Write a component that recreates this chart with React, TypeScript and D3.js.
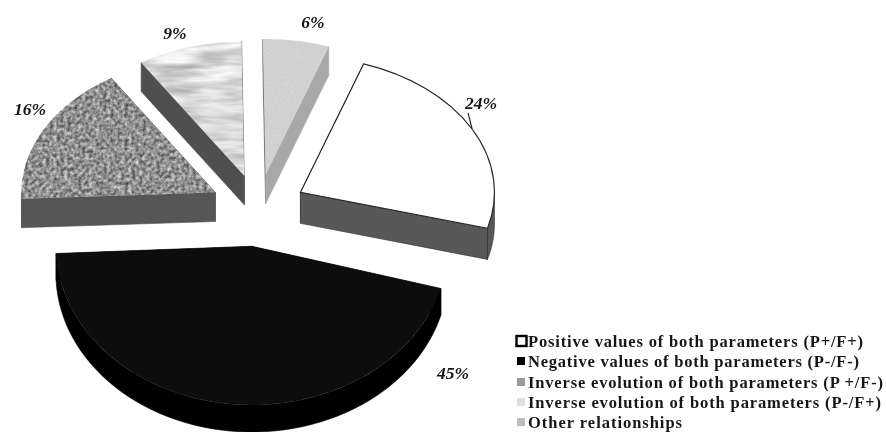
import React from "react";
import * as d3 from "d3";

const categories = [
  "Positive values of both parameters (P+/F+)",
  "Negative values of both parameters (P-/F-)",
  "Inverse evolution of both parameters (P +/F-)",
  "Inverse evolution of both parameters (P-/F+)",
  "Other relationships",
];
const percentLabels = ["24%", "45%", "16%", "9%", "6%"];
const values = [24, 45, 16.7, 8.8, 5.5];
const topFills = ["#ffffff", "#101010", "#8f8f8f", "#e0e0e0", "#d2d2d2"];
const sideFills = ["#595959", "#000000", "#565656", "#505050", "#a8a8a8"];
const strokes = ["#2a2a2a", "none", "none", "none", "none"];
const textures = ["", "", "url(#grain)", "url(#streak)", "url(#fine)"];
const swatchFills = ["#ffffff", "#000000", "#9a9a9a", "#dedede", "#bdbdbd"];
const explodes = [48, 55, 48, 48, 48];
const radii = [194, 196, 194, 192, 194];
const tilts = [0.7, 0.81, 0.7, 0.7, 0.7];
const depths = [31, 27, 29, 29, 29];

const W = 886, H = 432;
const cx = 258, cy = 208, baseTilt = 0.7;
const rot = (19 * Math.PI) / 180;

const pie = d3.pie<number>().sort(null).startAngle(rot).endAngle(rot + 2 * Math.PI);
const arcs = pie(values);
const lineGen = d3.line<[number, number]>();

const labelPos = [
  { x: 481, y: 109 },
  { x: 453, y: 379 },
  { x: 30, y: 115 },
  { x: 175, y: 39 },
  { x: 313, y: 28 },
];
const legendY = [347, 367, 388, 408, 428];
const legendW = [335, 331, 355, 353, 154];

function geom(i: number) {
  const d = arcs[i];
  const mid = (d.startAngle + d.endAngle) / 2;
  const ox = cx + explodes[i] * Math.sin(mid);
  const oy = cy - explodes[i] * baseTilt * Math.cos(mid);
  const project = (a: number, z = 0): [number, number] => [
    ox + radii[i] * Math.sin(a),
    oy - radii[i] * tilts[i] * Math.cos(a) + z,
  ];
  return { d, mid, ox, oy, project };
}

function Slice({ i }: { i: number }) {
  const { d, ox, oy, project } = geom(i);
  const depth = depths[i];
  const radial = (a: number) =>
    lineGen([[ox, oy], project(a), project(a, depth), [ox, oy + depth]]) + "Z";
  const lo = Math.max(d.startAngle, Math.PI / 2);
  const hi = Math.min(d.endAngle, (3 * Math.PI) / 2);
  let wall = "";
  if (hi > lo) {
    const as = d3.range(0, 61).map((k) => lo + ((hi - lo) * k) / 60);
    wall = lineGen([...as.map((a) => project(a)), ...as.map((a) => project(a, depth)).reverse()]) + "Z";
  }
  const arcGen = d3.arc<any>().innerRadius(0).outerRadius(radii[i]);
  const edge = strokes[i] === "none" ? sideFills[i] : strokes[i];
  return (
    <g>
      <path d={radial(d.startAngle)} fill={sideFills[i]} stroke={i === 4 ? "#555" : sideFills[i]} strokeWidth={0.6} />
      <path d={radial(d.endAngle)} fill={sideFills[i]} stroke={edge} strokeWidth={0.6} />
      {wall && <path d={wall} fill={sideFills[i]} stroke={edge} strokeWidth={0.6} />}
      <g filter={textures[i] || undefined}>
        <path
          transform={`translate(${ox},${oy}) scale(1,${tilts[i]})`}
          d={arcGen(d) as string}
          fill={topFills[i]}
          stroke={strokes[i]}
          strokeWidth={1.2}
          vectorEffect="non-scaling-stroke"
        />
      </g>
    </g>
  );
}

export default function App() {
  const order = [0, 2, 3, 4, 1];
  const w = geom(0);
  const leaderEnd = w.project(w.mid);
  return (
    <svg width={W} height={H} viewBox={`0 0 ${W} ${H}`} style={{ position: "absolute", left: 0, top: 0, background: "#fff" }}>
      <defs>
        <filter id="grain" x="-5%" y="-5%" width="110%" height="110%" colorInterpolationFilters="sRGB">
          <feTurbulence type="fractalNoise" baseFrequency="0.28" numOctaves={2} seed={4} result="n" />
          <feColorMatrix in="n" type="matrix" values="0.85 0 0 0 0.14  0.85 0 0 0 0.14  0.85 0 0 0 0.14  0 0 0 0 1" result="g" />
          <feGaussianBlur in="g" stdDeviation="0.5" result="b" />
          <feComposite in="b" in2="SourceGraphic" operator="in" />
        </filter>
        <filter id="streak" x="-5%" y="-5%" width="110%" height="110%" colorInterpolationFilters="sRGB">
          <feTurbulence type="fractalNoise" baseFrequency="0.02 0.13" numOctaves={3} seed={9} result="n" />
          <feColorMatrix in="n" type="matrix" values="0.5 0 0 0 0.6  0.5 0 0 0 0.6  0.5 0 0 0 0.6  0 0 0 0 1" result="g" />
          <feComposite in="g" in2="SourceGraphic" operator="in" />
        </filter>
        <filter id="fine" x="-5%" y="-5%" width="110%" height="110%" colorInterpolationFilters="sRGB">
          <feTurbulence type="fractalNoise" baseFrequency="0.6" numOctaves={1} seed={2} result="n" />
          <feColorMatrix in="n" type="matrix" values="0.08 0 0 0 0.78  0.08 0 0 0 0.78  0.08 0 0 0 0.78  0 0 0 0 1" result="g" />
          <feComposite in="g" in2="SourceGraphic" operator="in" />
        </filter>
        <filter id="soft"><feGaussianBlur stdDeviation="0.55" /></filter>
        <filter id="softText" x="-5%" y="-20%" width="110%" height="140%"><feGaussianBlur stdDeviation="0.4" /></filter>
      </defs>
      <g filter="url(#soft)">
        {order.map((i) => <Slice key={i} i={i} />)}
        <path d={lineGen([leaderEnd, [leaderEnd[0] - 4, leaderEnd[1] - 16]]) as string} fill="none" stroke="#222" strokeWidth={1.1} />
      </g>
      <g filter="url(#softText)" fontFamily="'Liberation Serif', serif" fill="#161616">
        {percentLabels.map((t, i) => (
          <text key={i} x={labelPos[i].x} y={labelPos[i].y} textAnchor="middle" fontStyle="italic" fontWeight="bold" fontSize={17.5}>
            {t}
          </text>
        ))}
        {categories.map((c, i) => (
          <g key={i}>
            <rect
              x={i === 0 ? 516.5 : 517}
              y={legendY[i] - (i === 0 ? 11 : 10)}
              width={i === 0 ? 10 : 8}
              height={i === 0 ? 10 : 8}
              fill={swatchFills[i]}
              stroke={i === 0 ? "#000" : "none"}
              strokeWidth={2.4}
            />
            <text x={528} y={legendY[i]} fontWeight="bold" fontSize={16.5} textLength={legendW[i]} lengthAdjust="spacing">
              {c}
            </text>
          </g>
        ))}
      </g>
    </svg>
  );
}
